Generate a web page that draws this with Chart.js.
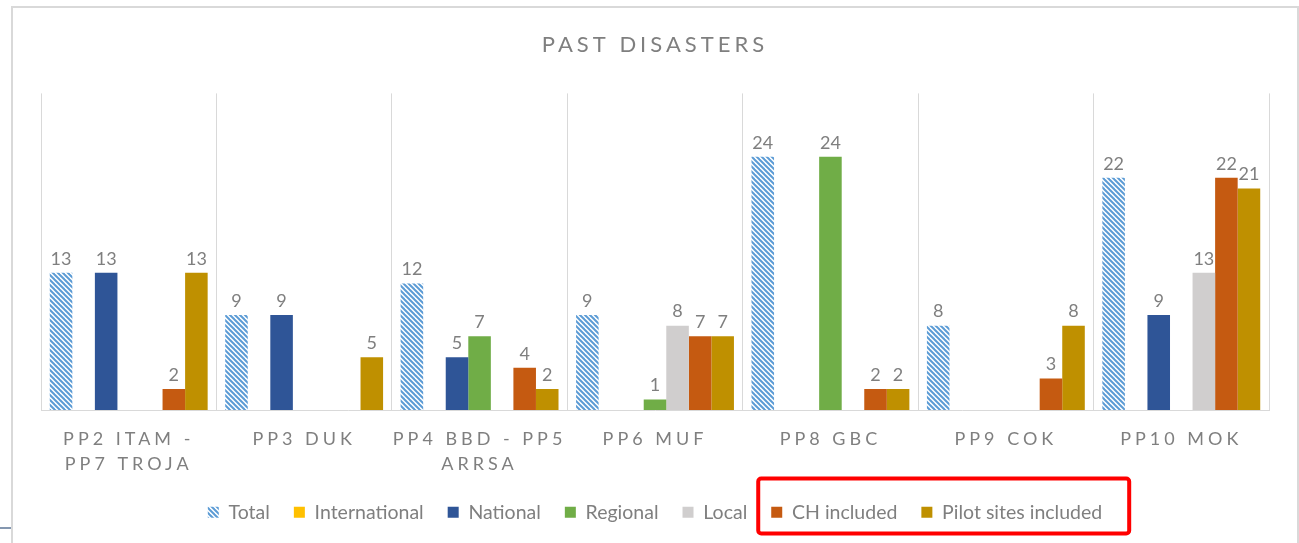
<!DOCTYPE html>
<html>
<head>
<meta charset="utf-8">
<script src="https://cdn.jsdelivr.net/npm/chart.js@4.4.1/dist/chart.umd.min.js"></script>
<style>
  body { margin: 0; background: #fff; }
  #wrap { position: relative; width: 1299px; height: 543px; overflow: hidden; }
  #frame { position: absolute; left: 11px; top: 6px; width: 1284px; height: 600px; border: 2px solid #d9d9d9; border-bottom: none; pointer-events: none; }
  #tick { position: absolute; left: 0; top: 527px; width: 11px; height: 2px; background: #8497b0; }
</style>
</head>
<body>
<div id="wrap">
  <canvas id="pastChart" width="1299" height="543"></canvas>
  <div id="frame"></div>
  <div id="tick"></div>
</div>
<script>
// Data
const categories = [
  ['PP2 ITAM -', 'PP7 TROJA'],
  'PP3 DUK',
  ['PP4 BBD - PP5', 'ARRSA'],
  'PP6 MUF',
  'PP8 GBC',
  'PP9 COK',
  'PP10 MOK'
];
const totalValues         = [13, 9, 12, 9, 24, 8, 22];
const internationalValues = [0, 0, 0, 0, 0, 0, 0];
const nationalValues      = [13, 9, 5, 0, 0, 0, 9];
const regionalValues      = [0, 0, 7, 1, 24, 0, 0];
const localValues         = [0, 0, 0, 8, 0, 0, 13];
const chIncludedValues    = [2, 0, 4, 7, 2, 3, 22];
const pilotSitesValues    = [13, 5, 2, 7, 2, 8, 21];

const FONT = 'Lato, "Open Sans", sans-serif';
const GREY = '#7f7f7f';

// diagonal hatch for the "Total" series
function makeHatch() {
  const c = document.createElement('canvas');
  c.width = 5; c.height = 5;
  const g = c.getContext('2d');
  g.fillStyle = '#ffffff';
  g.fillRect(0, 0, 5, 5);
  g.strokeStyle = '#5b9bd5';
  g.lineWidth = 2;
  for (let o = -5; o <= 5; o += 5) {
    g.beginPath();
    g.moveTo(o - 1, -1);
    g.lineTo(o + 6, 6);
    g.stroke();
  }
  return g.createPattern(c, 'repeat');
}

// letter spacing for title and category labels
function spacing(px) {
  return function(obj, name, chart) {
    if (!obj || obj['_spaced_' + name]) return;
    const orig = obj[name];
    obj[name] = function() {
      const ctx = chart.ctx;
      ctx.save();
      ctx.letterSpacing = px;
      orig.apply(this, arguments);
      ctx.restore();
    };
    obj['_spaced_' + name] = true;
  };
}
const spacedText = {
  id: 'spacedText',
  afterLayout(chart) {
    spacing('4px')(chart.titleBlock, 'draw', chart);
    spacing('4px')(chart.scales.x, 'drawLabels', chart);
  }
};

// value labels above bars
const valueLabels = {
  id: 'valueLabels',
  afterDatasetsDraw(chart) {
    const ctx = chart.ctx;
    ctx.save();
    ctx.font = '18px ' + FONT;
    ctx.fillStyle = GREY;
    ctx.textAlign = 'center';
    ctx.textBaseline = 'bottom';
    chart.data.datasets.forEach((ds, i) => {
      const meta = chart.getDatasetMeta(i);
      meta.data.forEach((bar, j) => {
        const v = ds.data[j];
        if (!v) return;
        ctx.fillText(v, bar.x, bar.y - 5);
      });
    });
    ctx.restore();
  }
};

// red box around the last two legend entries
const legendHighlight = {
  id: 'legendHighlight',
  afterDraw(chart) {
    const boxes = chart.legend && chart.legend.legendHitBoxes;
    if (!boxes || boxes.length < 7) return;
    const a = boxes[5], b = boxes[6];
    const ctx = chart.ctx;
    const x1 = a.left - 13, x2 = b.left + b.width + 27;
    const y1 = a.top - 24, y2 = a.top + 31;
    ctx.save();
    ctx.strokeStyle = '#ff0000';
    ctx.lineWidth = 4;
    ctx.beginPath();
    ctx.roundRect(x1, y1, x2 - x1, y2 - y1, 3);
    ctx.stroke();
    ctx.restore();
  }
};

const ctx = document.getElementById('pastChart').getContext('2d');
const hatch = makeHatch();

const pastChart = new Chart(ctx, {
  type: 'bar',
  data: {
    labels: categories,
    datasets: [
      { label: 'Total', data: totalValues, backgroundColor: hatch },
      { label: 'International', data: internationalValues, backgroundColor: '#ffc000' },
      { label: 'National', data: nationalValues, backgroundColor: '#2f5597' },
      { label: 'Regional', data: regionalValues, backgroundColor: '#70ad47' },
      { label: 'Local', data: localValues, backgroundColor: '#d0cece' },
      { label: 'CH included', data: chIncludedValues, backgroundColor: '#c55a11' },
      { label: 'Pilot sites included', data: pilotSitesValues, backgroundColor: '#bf9000' }
    ]
  },
  options: {
    responsive: false,
    animation: false,
    datasets: {
      bar: { categoryPercentage: 0.9, barPercentage: 1.0, borderWidth: 0 }
    },
    layout: { padding: { left: 41, right: 30, top: 0, bottom: 11 } },
    plugins: {
      title: {
        display: true,
        text: 'PAST DISASTERS',
        color: GREY,
        font: { family: FONT, size: 22, weight: 'normal' },
        padding: { top: 32, bottom: 35 }
      },
      legend: {
        position: 'bottom',
        labels: {
          color: GREY,
          font: { family: FONT, size: 19.5 },
          boxWidth: 11,
          boxHeight: 11,
          padding: 24
        }
      },
      tooltip: { enabled: false }
    },
    scales: {
      x: {
        grid: { color: '#d9d9d9', offset: true, drawTicks: false },
        border: { color: '#d9d9d9' },
        ticks: {
          color: GREY,
          font: { family: FONT, size: 18, lineHeight: 1.4 },
          padding: 16,
          maxRotation: 0,
          autoSkip: false
        },
        afterFit(scale) { scale.height -= 14; }
      },
      y: {
        display: false,
        min: 0,
        max: 30
      }
    }
  },
  plugins: [spacedText, valueLabels, legendHighlight]
});
</script>
</body>
</html>
